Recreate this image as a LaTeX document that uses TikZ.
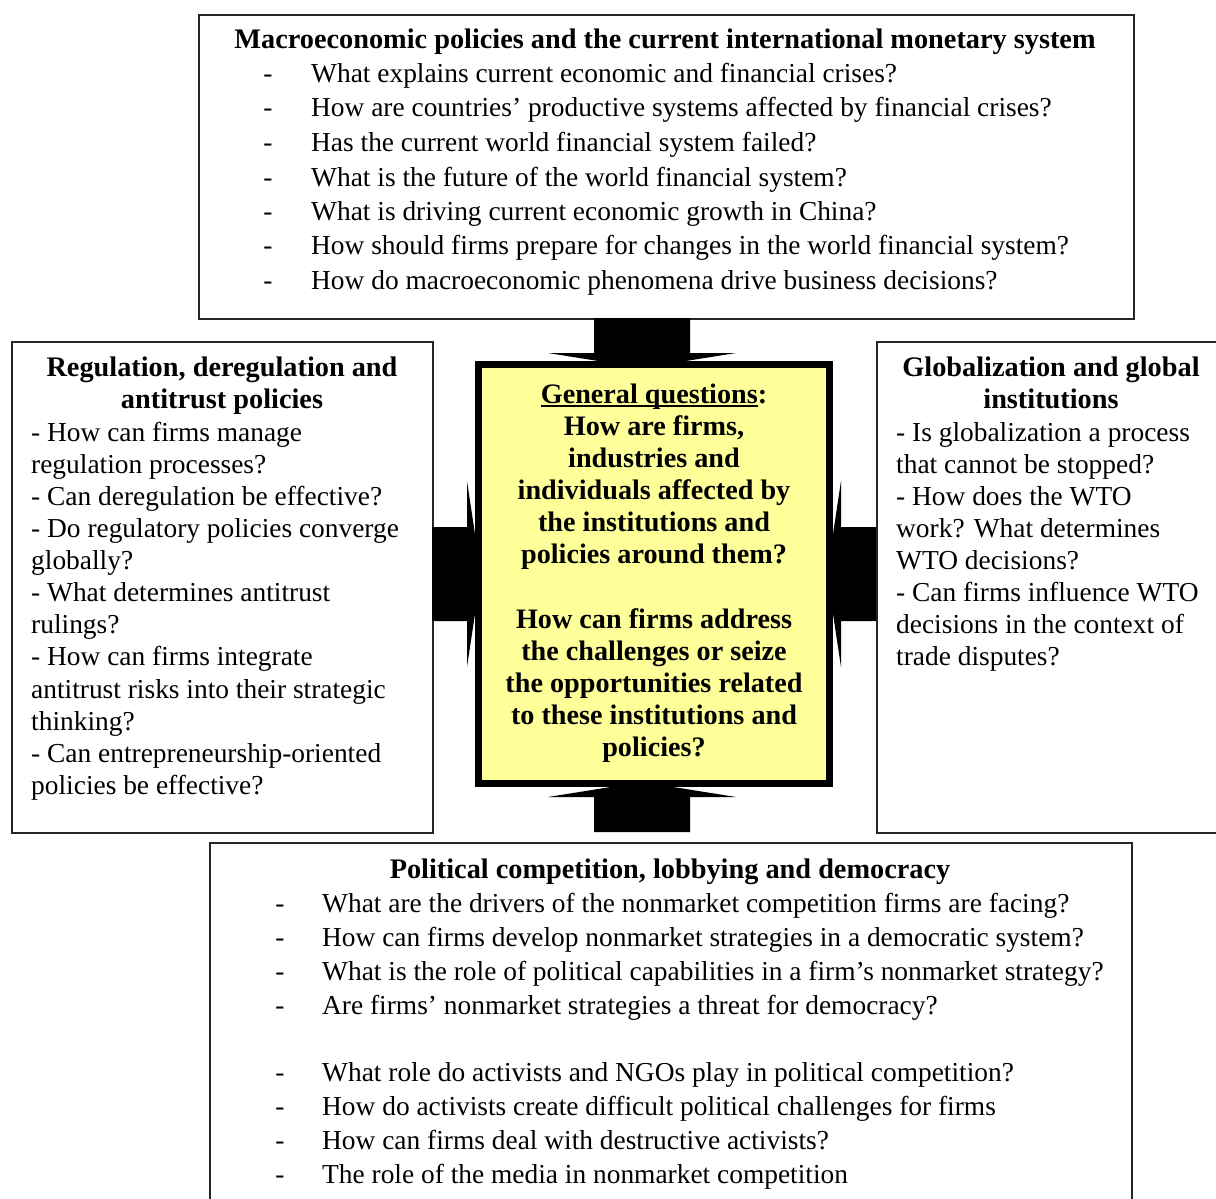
\documentclass[tikz,border=0pt]{standalone}
\usepackage{fontspec}
\setmainfont{Liberation Serif}
\usetikzlibrary{calc}
\definecolor{coreyellow}{HTML}{FFFF99}
\tikzset{
  frame/.style={draw=black!85, line width=1.8pt, inner sep=0, anchor=north west},
  bodyline/.style={font=\fontsize{27.4}{32}\selectfont, anchor=base west, inner sep=0},
  dashmark/.style={font=\fontsize{27.4}{32}\selectfont, anchor=base, inner sep=0},
  ttl/.style={font=\bfseries\fontsize{28.3}{32}\selectfont, anchor=base, inner sep=0},
  coreline/.style={font=\bfseries\fontsize{28.2}{32}\selectfont, anchor=base, inner sep=0},
  blockarrow/.style={fill=black, draw=none}
}
\begin{document}
\begin{tikzpicture}[x=1pt,y=-1pt]
\useasboundingbox (0,0) rectangle (1216,1199);
\clip (0,0) rectangle (1216,1199);
\fill[white] (0,0) rectangle (1216,1199);

% boxes
\node[frame, minimum width=935, minimum height=304] (topbox) at (198,14) {};
\node[frame, minimum width=421, minimum height=491] (leftbox) at (11,341) {};
\node[frame, minimum width=360, minimum height=491] (rightbox) at (876,341) {};
\node[frame, minimum width=922, minimum height=380] (botbox) at (209,842) {};

% block arrows (drawn before the core box so their tips hide under it)
\fill[blockarrow] (594,318) -- (690,318) -- (690,353) -- (736,353) -- (642,368) -- (548,353) -- (594,353) -- cycle;
\fill[blockarrow] (594,832) -- (690,832) -- (690,797) -- (736,797) -- (642,782) -- (548,797) -- (594,797) -- cycle;
\fill[blockarrow] (432,527) -- (432,621) -- (467,621) -- (467,667) -- (481,574) -- (467,481) -- (467,527) -- cycle;
\fill[blockarrow] (876,527) -- (876,621) -- (841,621) -- (841,667) -- (827,574) -- (841,481) -- (841,527) -- cycle;

% core box
\node[draw=black, line width=7pt, fill=coreyellow, minimum width=351, minimum height=419, inner sep=0] (core) at (654,574) {};

% core text
\node[coreline] (c0) at (654,403) {General questions:};
\draw[line width=2pt] ($(c0.south west)+(0,-3)$) -- ($(c0.south east)+(-9,-3)$);
\foreach \yy/\tt [count=\i] in {435/{How are firms,}, 467/{industries and}, 499/{individuals affected by}, 531/{the institutions and}, 563/{policies around them?}, 628/{How can firms address}, 660/{the challenges or seize}, 692/{the opportunities related}, 724/{to these institutions and}, 756/{policies?}}
  \node[coreline] (c\i) at (654,\yy) {\tt};

% top box text
\node[ttl] (toptitle) at (665,49) {Macroeconomic policies and the current international monetary system};
\foreach \yy/\tt [count=\i] in {83/{What explains current economic and financial crises?}, 117/{How are countries’ productive systems affected by financial crises?}, 151/{Has the current world financial system failed?}, 186/{What is the future of the world financial system?}, 220/{What is driving current economic growth in China?}, 254/{How should firms prepare for changes in the world financial system?}, 289/{How do macroeconomic phenomena drive business decisions?}}
{
  \node[dashmark] (td\i) at (268,\yy) {-};
  \node[bodyline] (tl\i) at (311,\yy) {\tt};
}

% left box text
\node[ttl] (lefttitle1) at (222,376) {Regulation, deregulation and};
\node[ttl] (lefttitle2) at (222,408) {antitrust policies};
\foreach \yy/\tt [count=\i] in {441/{- How can firms manage}, 473/{regulation processes?}, 505/{- Can deregulation be effective?}, 537/{- Do regulatory policies converge}, 569/{globally?}, 601/{- What determines antitrust}, 633/{rulings?}, 665/{- How can firms integrate}, 698/{antitrust risks into their strategic}, 730/{thinking?}, 762/{- Can entrepreneurship-oriented}, 794/{policies be effective?}}
  \node[bodyline] (ll\i) at (31,\yy) {\tt};

% right box text
\node[ttl] (righttitle1) at (1051,376) {Globalization and global};
\node[ttl] (righttitle2) at (1051,408) {institutions};
\foreach \yy/\tt [count=\i] in {441/{- Is globalization a process}, 473/{that cannot be stopped?}, 505/{- How does the WTO}, 537/{work? What determines}, 569/{WTO decisions?}, 601/{- Can firms influence WTO}, 633/{decisions in the context of}, 665/{trade disputes?}}
  \node[bodyline] (rl\i) at (896,\yy) {\tt};

% bottom box text
\node[ttl] (bottitle) at (670,878) {Political competition, lobbying and democracy};
\foreach \yy/\tt [count=\i] in {912/{What are the drivers of the nonmarket competition firms are facing?}, 946/{How can firms develop nonmarket strategies in a democratic system?}, 980/{What is the role of political capabilities in a firm’s nonmarket strategy?}, 1014/{Are firms’ nonmarket strategies a threat for democracy?}, 1081/{What role do activists and NGOs play in political competition?}, 1115/{How do activists create difficult political challenges for firms}, 1149/{How can firms deal with destructive activists?}, 1183/{The role of the media in nonmarket competition}}
{
  \node[dashmark] (bd\i) at (280,\yy) {-};
  \node[bodyline] (bl\i) at (322,\yy) {\tt};
}
\end{tikzpicture}
\end{document}
